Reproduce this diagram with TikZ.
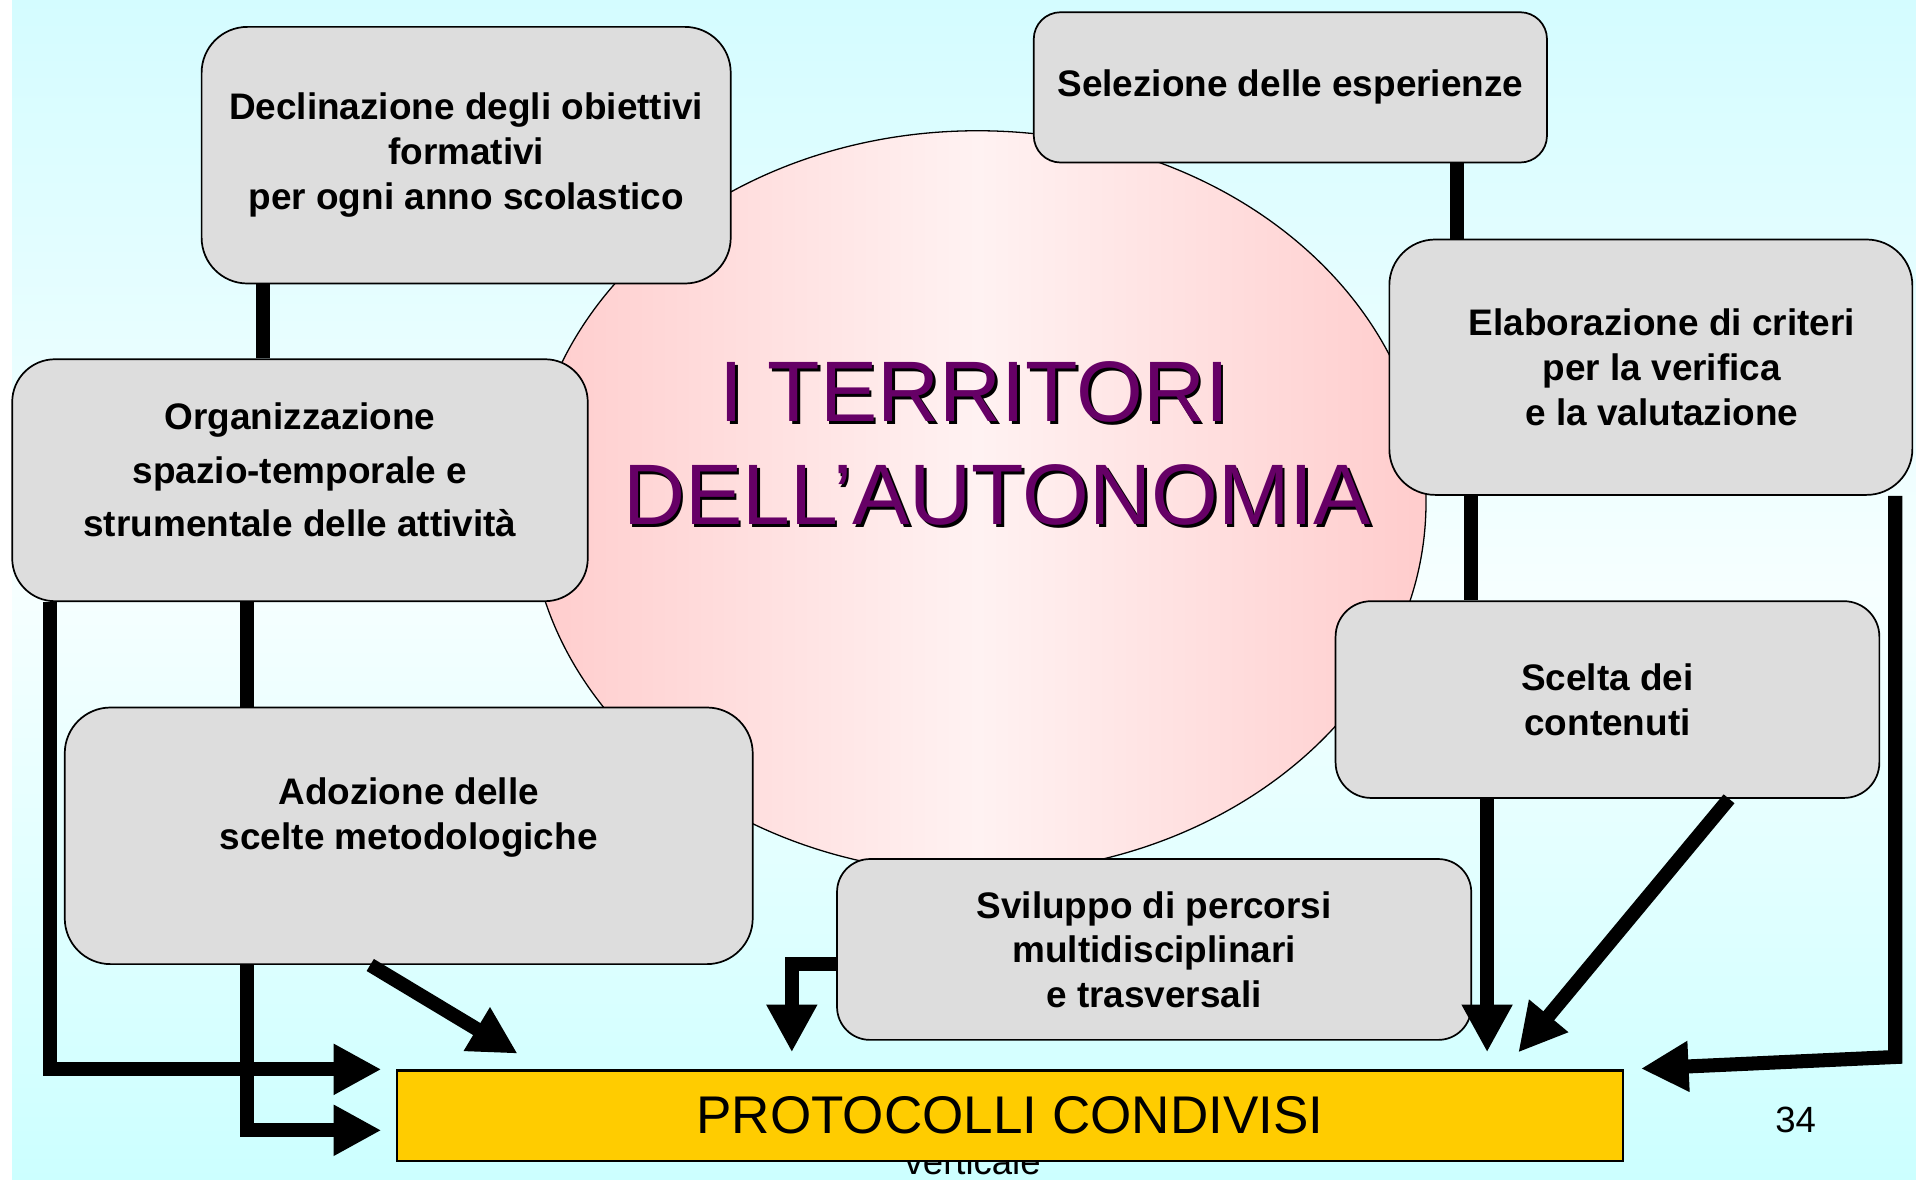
\documentclass[tikz,border=0pt]{standalone}
\usepackage{fontspec}
\setmainfont{Liberation Sans}
\usetikzlibrary{arrows.meta}
\definecolor{skytop}{RGB}{212,252,255}
\definecolor{skymid}{RGB}{246,255,255}
\definecolor{skybot}{RGB}{204,255,255}
\definecolor{pinkedge}{RGB}{255,204,204}
\definecolor{pinkmid}{RGB}{255,242,242}
\definecolor{boxgray}{RGB}{221,221,221}
\definecolor{protgold}{RGB}{255,204,0}
\definecolor{titleplum}{RGB}{102,0,102}
\begin{document}
\begin{tikzpicture}[x=0.2mm, y=-0.2mm, >={Triangle[length=7.8mm,width=7.8mm]},
        area/.style={draw, line width=0.8pt, fill=boxgray, align=center, inner sep=0pt,
            font=\bfseries\fontsize{17.2}{20.8}\selectfont},
        joint/.style={line width=2.3mm},
        flow/.style={line width=2.3mm, ->, line join=miter}]
        \fill[white](0,0) rectangle (1568,965);
        \shade[top color=skytop, bottom color=skybot, middle color=skymid](10,0) rectangle (1568,965);
        \useasboundingbox (0,0) rectangle (1568,965);
        \draw[line width=0.6pt, left color=pinkedge, right color=pinkedge, middle color=pinkmid]
            (800,411) ellipse [x radius=367, y radius=304];
        \foreach \dx/\tint/\tag in {2.2/black/shade, 0/titleplum/main}
            {
                \node[text=\tint, anchor=base, font=\fontsize{40}{48}\selectfont] (title-\tag-a) at (797.5+\dx,345+\dx) {I TERRITORI};
                \node[text=\tint, anchor=base, font=\fontsize{40}{48}\selectfont] (title-\tag-b) at (816+\dx,429.6+\dx) {DELL’AUTONOMIA};
            }
        \node[anchor=base, font=\fontsize{17}{20}\selectfont] (vert) at (796,961.5) {verticale};
        \node[anchor=base, font=\fontsize{17}{20}\selectfont] (page) at (1469.5,927) {34};
        \node[area, rounded corners=7.5mm, minimum width=86.6mm, minimum height=42mm] (decl) at (381.5,127)
            {Declinazione degli obiettivi\\formativi\\ per ogni anno scolastico};
        \node[area, rounded corners=4.4mm, minimum width=84mm, minimum height=24.6mm] (sel) at (1056,71.5)
            {Selezione delle esperienze};
        \node[area, rounded corners=7mm, minimum width=94.2mm, minimum height=39.6mm,
            font=\bfseries\fontsize{17.2}{24.8}\selectfont] (org) at (245.5,393)
            {Organizzazione\\spazio-temporale e\\strumentale delle attività\\[-15pt]\mbox{}};
        \node[area, rounded corners=7.5mm, minimum width=85.6mm, minimum height=41.8mm] (elab) at (1351,300.5)
            {\hspace*{3.6mm}Elaborazione di criteri\\\hspace*{3.6mm}per la verifica\\\hspace*{3.6mm}e la valutazione};
        \node[area, rounded corners=5.8mm, minimum width=89mm, minimum height=32.2mm] (scelta) at (1315.5,572.5)
            {Scelta dei\\contenuti};
        \node[area, rounded corners=7.5mm, minimum width=112.6mm, minimum height=42mm] (adoz) at (334.5,684)
            {Adozione delle\\scelte metodologiche\\\mbox{}};
        \node[area, rounded corners=5.4mm, minimum width=103.8mm, minimum height=29.6mm] (svil) at (944.5,777)
            {Sviluppo di percorsi\\multidisciplinari\\e trasversali};
        \node[draw, line width=1pt, fill=protgold, inner sep=0pt, minimum width=200.6mm, minimum height=14.8mm,
            font=\fontsize{24.7}{29}\selectfont] (prot) at (826.5,913) {PROTOCOLLI CONDIVISI};
        \draw[joint](decl.south -| 215,0)--(org.north -| 215,0);
        \draw[joint](sel.south -| 1192,0)--(elab.north -| 1192,0);
        \draw[joint](elab.south -| 1204,0)--(scelta.north -| 1204,0);
        \draw[joint](org.south -| 202,0)--(adoz.north -| 202,0);
        \draw[flow, shorten >=2.4mm](org.south -| 41,0) |- (prot.north west);
        \draw[flow, shorten >=2.4mm](adoz.south -| 202,0) |- (prot.west |- 0,925);
        \draw[flow, shorten >=5mm](adoz.south -| 303,0)--(prot.north -| 445,0);
        \draw[flow, shorten >=2.8mm](svil.west |- 0,789) -| (prot.north -| 648,0);
        \draw[flow, shorten >=2.8mm](scelta.south -| 1217,0)--(prot.north -| 1217,0);
        \draw[flow, shorten >=3.6mm](scelta.south -| 1415,0)--(prot.north -| 1231,0);
        \draw[flow, shorten >=2.8mm](elab.south -| 1551,0)--(1551,865)--(prot.north east);
    \end{tikzpicture}
\end{document}
